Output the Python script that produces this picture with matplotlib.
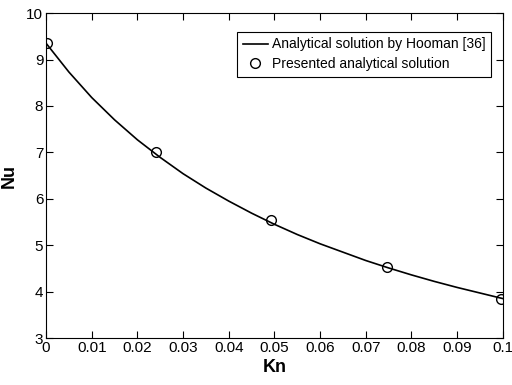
import matplotlib
matplotlib.use("Agg")
import matplotlib.pyplot as plt

plt.rcParams['font.family'] = ['Liberation Sans', 'DejaVu Sans']

# analytical curve (Hooman)
kn_line = [0.0, 0.005, 0.01, 0.015, 0.02, 0.025, 0.03, 0.035, 0.04, 0.045, 0.05,
           0.055, 0.06, 0.065, 0.07, 0.075, 0.08, 0.085, 0.09, 0.095, 0.1]
nu_line = [9.35, 8.73, 8.18, 7.70, 7.27, 6.89, 6.54, 6.23, 5.95, 5.69, 5.45,
           5.23, 5.03, 4.85, 4.67, 4.51, 4.36, 4.22, 4.09, 3.97, 3.85]

# presented solution
kn_pts = [0.0003, 0.024, 0.0493, 0.0747, 0.0995]
nu_pts = [9.36, 7.0, 5.54, 4.52, 3.85]

fig = plt.figure(figsize=(5.12, 3.85), dpi=100)
ax = fig.add_axes([0.090, 0.122, 0.892, 0.844])

ax.plot(kn_line, nu_line, color='black', lw=1.2, label='Analytical solution by Hooman [36]')
ax.plot(kn_pts, nu_pts, 'o', mfc='none', mec='black', ms=7, mew=1.0,
        label='Presented analytical solution')

ax.set_xlim(0, 0.1)
ax.set_ylim(3, 10)
ax.set_xticks([0, 0.01, 0.02, 0.03, 0.04, 0.05, 0.06, 0.07, 0.08, 0.09, 0.1])
ax.set_xticklabels(['0', '0.01', '0.02', '0.03', '0.04', '0.05', '0.06', '0.07', '0.08', '0.09', '0.1'])
ax.set_yticks([3, 4, 5, 6, 7, 8, 9, 10])
ax.tick_params(direction='in', top=True, right=True, labelsize=11, length=5, pad=2)
for s in ax.spines.values():
    s.set_linewidth(0.8)

ax.set_xlabel('Kn', fontsize=13, fontweight='bold', labelpad=3)
ax.set_ylabel('Nu', fontsize=13, fontweight='bold', labelpad=6)

leg = ax.legend(loc='upper right', bbox_to_anchor=(0.974, 0.942), borderaxespad=0,
                fontsize=10, fancybox=False, edgecolor='black', framealpha=1,
                handlelength=1.8, handletextpad=0.3, borderpad=0.4, labelspacing=0.4)
leg.get_frame().set_linewidth(0.8)

fig.savefig('out.png', dpi=100)
